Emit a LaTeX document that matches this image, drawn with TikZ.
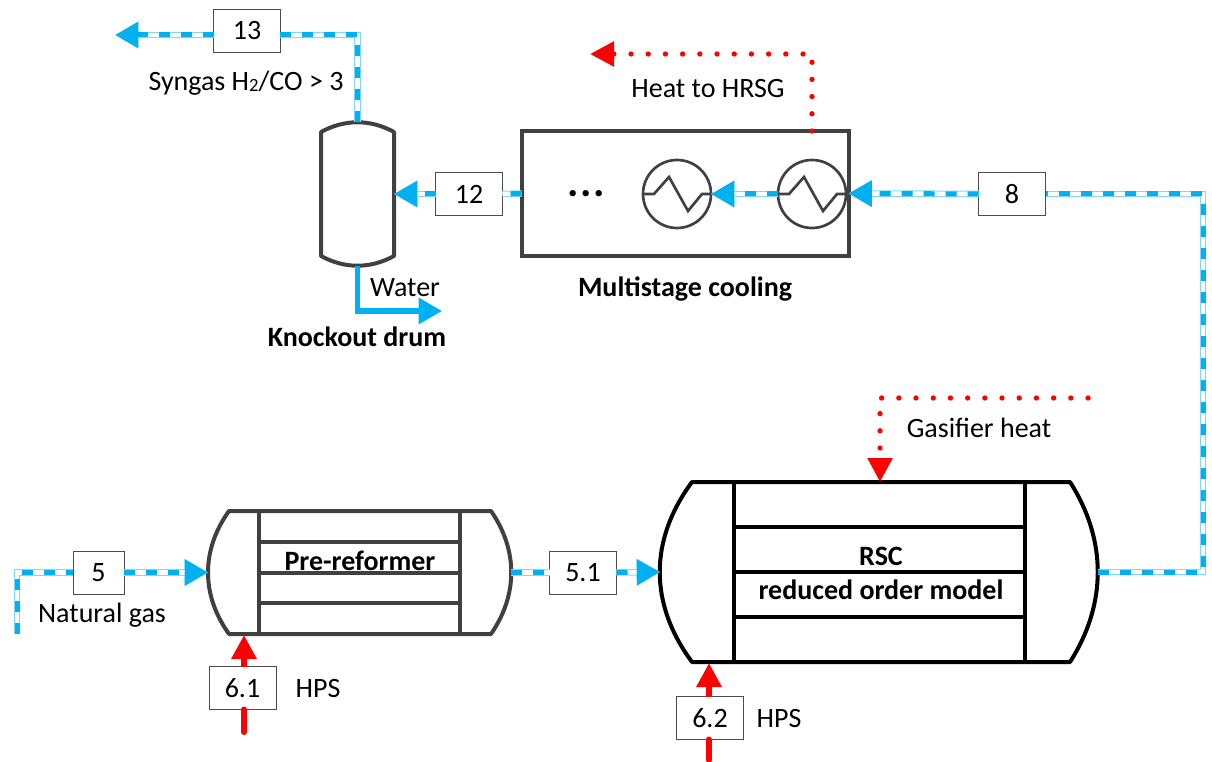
\documentclass[tikz,border=0pt]{standalone}
\usepackage{fontspec}
\setmainfont{Carlito}
\usetikzlibrary{arrows.meta}
\definecolor{pipeblue}{HTML}{00B0F0}
\definecolor{pipeedge}{HTML}{80D8F8}
\definecolor{vesselgray}{HTML}{404040}
\tikzset{
    label/.style={font=\fontsize{21}{25}\selectfont, inner sep=0pt, yshift=-0.75pt},
    title/.style={font=\fontsize{21}{25}\selectfont\bfseries, inner sep=0pt, yshift=-0.75pt},
    stream/.style={draw=black!70, line width=0.75pt, fill=white, minimum height=32.25pt, minimum width=50.25pt, inner sep=0pt, outer sep=0pt, font=\fontsize{21}{25}\selectfont},
    anchorbox/.style={inner sep=0pt, outer sep=0pt},
    pipe/.style={draw=pipeblue, line width=3.75pt, dash pattern=on 8.25pt off 8.25pt,
        preaction={draw=pipeedge, line width=4.9pt, solid},
        preaction={draw=white, line width=3.4pt, solid}},
    pipetip/.style={-{Triangle[length=17.5pt, width=19pt]}},
    heat/.style={draw=red, line width=4pt, line cap=round, dash pattern=on 0pt off 12.9pt},
    heattip/.style={draw=red, line width=4pt, -{Triangle[length=18pt, width=18pt, fill=red]}},
    hps/.style={draw=red, line width=4.5pt, line cap=round},
    hpstip/.style={draw=red, line width=4.5pt, -{Triangle[length=18pt, width=18pt]}},
    wall/.style={draw=vesselgray, line width=3pt},
    hx/.style={circle, draw=vesselgray, line width=2pt, minimum size=51pt, inner sep=0pt, outer sep=0pt},
}
\begin{document}
\begin{tikzpicture}[x=0.75pt, y=-0.75pt]
    \useasboundingbox (0, 0) rectangle (1212, 762);

    % Knockout drum
    \node[anchorbox, minimum width=54.75pt, minimum height=108pt] (drum) at (357.5, 194) {};
    \draw[wall, line join=round] (321, 132) .. controls (345, 119) and (370, 119) .. (394, 132)
        -- (394, 256) .. controls (370, 269) and (345, 269) .. (321, 256) -- cycle;
    \node[label] (water) at (405, 287) {Water};
    \node[title] (drumname) at (357, 336) {Knockout drum};
    \coordinate (waterend) at (442, 311);
    \draw[pipeblue, line width=4pt, -{Triangle[length=17.5pt, width=19pt]}] (drum.south) |- (waterend);

    % Syngas out
    \node[stream] (s13) at (247, 31) {13};
    \coordinate (s13r) at (280, 35);
    \coordinate (s13l) at (214, 35);
    \coordinate (syngasend) at (115, 35);
    \draw[pipe] (drum.north) |- (s13r);
    \draw[pipe, pipetip] (s13l) -- (syngasend);
    \node[label] (syngas) at (246, 82) {Syngas H{\fontsize{14}{16}\selectfont\raisebox{-1pt}{2}}/CO > 3};

    % Multistage cooling
    \node[wall, anchorbox, draw, rectangle, minimum width=245.25pt, minimum height=93.75pt] (cooling) at (685, 193.5) {};
    \node[hx] (hx1) at (677, 194) {};
    \node[hx] (hx2) at (812, 194) {};
    \draw[vesselgray, line width=2pt] (hx1.west) -- +(11, 0) -- +(26, -17) -- +(45, 17) -- +(59, 0) -- (hx1.east);
    \draw[vesselgray, line width=2pt] (hx2.west) -- +(11, 0) -- +(26, -17) -- +(45, 17) -- +(59, 0) -- (hx2.east);
    \node[anchorbox, font=\fontsize{32}{32}\selectfont\bfseries, anchor=base] (dots) at (586, 197) {.\kern1.25pt.\kern1.25pt.};
    \node[title] (coolingname) at (685, 288) {Multistage cooling};
    \node[label] (hrsg) at (708, 88) {Heat to HRSG};
    \coordinate (hrsgend) at (590, 54);
    \coordinate (hrsgbend) at (812, 54);
    \coordinate (hrsgtip) at (606, 54);
    \draw[heat] (hx2 |- cooling.north) -- (hrsgbend) -- (hrsgtip);
    \draw[heattip] (hrsgtip) -- (hrsgend);

    % Streams through the cooling train
    \node[stream] (s12) at (469, 194) {12};
    \node[stream] (s8) at (1012, 194) {8};
    \draw[pipe, pipetip] (s8) -- (cooling.east);
    \draw[pipe, pipetip] (hx2.west) -- (hx1.east);
    \draw[pipe] (cooling.west) -- (s12.east);
    \draw[pipe, pipetip] (s12.west) -- (drum.east);

    % Pre-reformer
    \node[anchorbox, minimum width=227.25pt, minimum height=92.25pt] (pre) at (359.5, 572.5) {};
    \draw[wall, line join=round] (229, 511) -- (491, 511) .. controls (518, 550) and (518, 595) .. (491, 634)
        -- (229, 634) .. controls (201, 595) and (201, 550) .. (229, 511) -- cycle;
    \draw[wall] (259, 511) -- (259, 634);
    \draw[wall] (460, 511) -- (460, 634);
    \draw[wall] (259, 542) -- (460, 542);
    \draw[wall] (259, 572.5) -- (460, 572.5);
    \draw[wall] (259, 603) -- (460, 603);
    \node[title] (prename) at (360, 560) {Pre-reformer};

    % Natural gas in
    \node[stream, minimum width=38.25pt] (s5) at (98.5, 572.5) {5};
    \coordinate (gasstart) at (17, 634);
    \node[label] (gas) at (102, 614) {Natural gas};
    \draw[pipe] (gasstart) |- (s5.west);
    \draw[pipe, pipetip] (s5.east) -- (pre.west);

    % HPS to pre-reformer
    \node[stream] (s61) at (242.5, 688) {6.1};
    \coordinate (hps1start) at (244, 732);
    \coordinate (hps1end) at (244, 635);
    \draw[hps] (hps1start) -- (s61.south -| hps1start);
    \draw[hpstip] (s61.north -| hps1start) -- (hps1end);
    \node[label] (hps1) at (318, 688) {HPS};

    % RSC
    \node[anchorbox, minimum width=328.5pt, minimum height=135pt] (rsc) at (879, 572) {};
    \draw[line width=3pt, line join=round] (692, 482) -- (1070, 482) .. controls (1107, 540) and (1107, 604) .. (1070, 662)
        -- (692, 662) .. controls (649, 604) and (649, 540) .. (692, 482) -- cycle;
    \draw[line width=3pt] (734, 482) -- (734, 662);
    \draw[line width=3pt] (1025, 482) -- (1025, 662);
    \draw[line width=3pt] (734, 527) -- (1025, 527);
    \draw[line width=3pt] (734, 572) -- (1025, 572);
    \draw[line width=3pt] (734, 617) -- (1025, 617);
    \node[title] (rscname) at (881, 555) {RSC};
    \node[title] (rsclabel) at (881, 589) {reduced order model};

    % Reformer streams
    \node[stream] (s51) at (583, 572.5) {5.1};
    \coordinate (pipecorner) at (1203, 572);
    \draw[pipe] (pre.east) -- (s51.west);
    \draw[pipe, pipetip] (s51.east) -- (rsc.west);
    \draw[pipe] (rsc.east) -- (pipecorner) |- (s8.east);

    % HPS to RSC
    \node[stream] (s62) at (710, 718) {6.2};
    \coordinate (hps2start) at (709, 760);
    \coordinate (hps2end) at (709, 663);
    \draw[hps] (hps2start) -- (s62.south -| hps2start);
    \draw[hpstip] (s62.north -| hps2start) -- (hps2end);
    \node[label] (hps2) at (779, 718) {HPS};

    % Gasifier heat
    \coordinate (heatstart) at (1088, 398);
    \coordinate (heatbend) at (880, 398);
    \coordinate (heattipstart) at (880, 465);
    \coordinate (heatend) at (880, 482);
    \draw[heat] (heatstart) -- (heatbend) -- (heattipstart);
    \draw[heattip] (heattipstart) -- (heatend);
    \node[label] (gasifier) at (979, 427) {Gasifier heat};
\end{tikzpicture}
\end{document}
